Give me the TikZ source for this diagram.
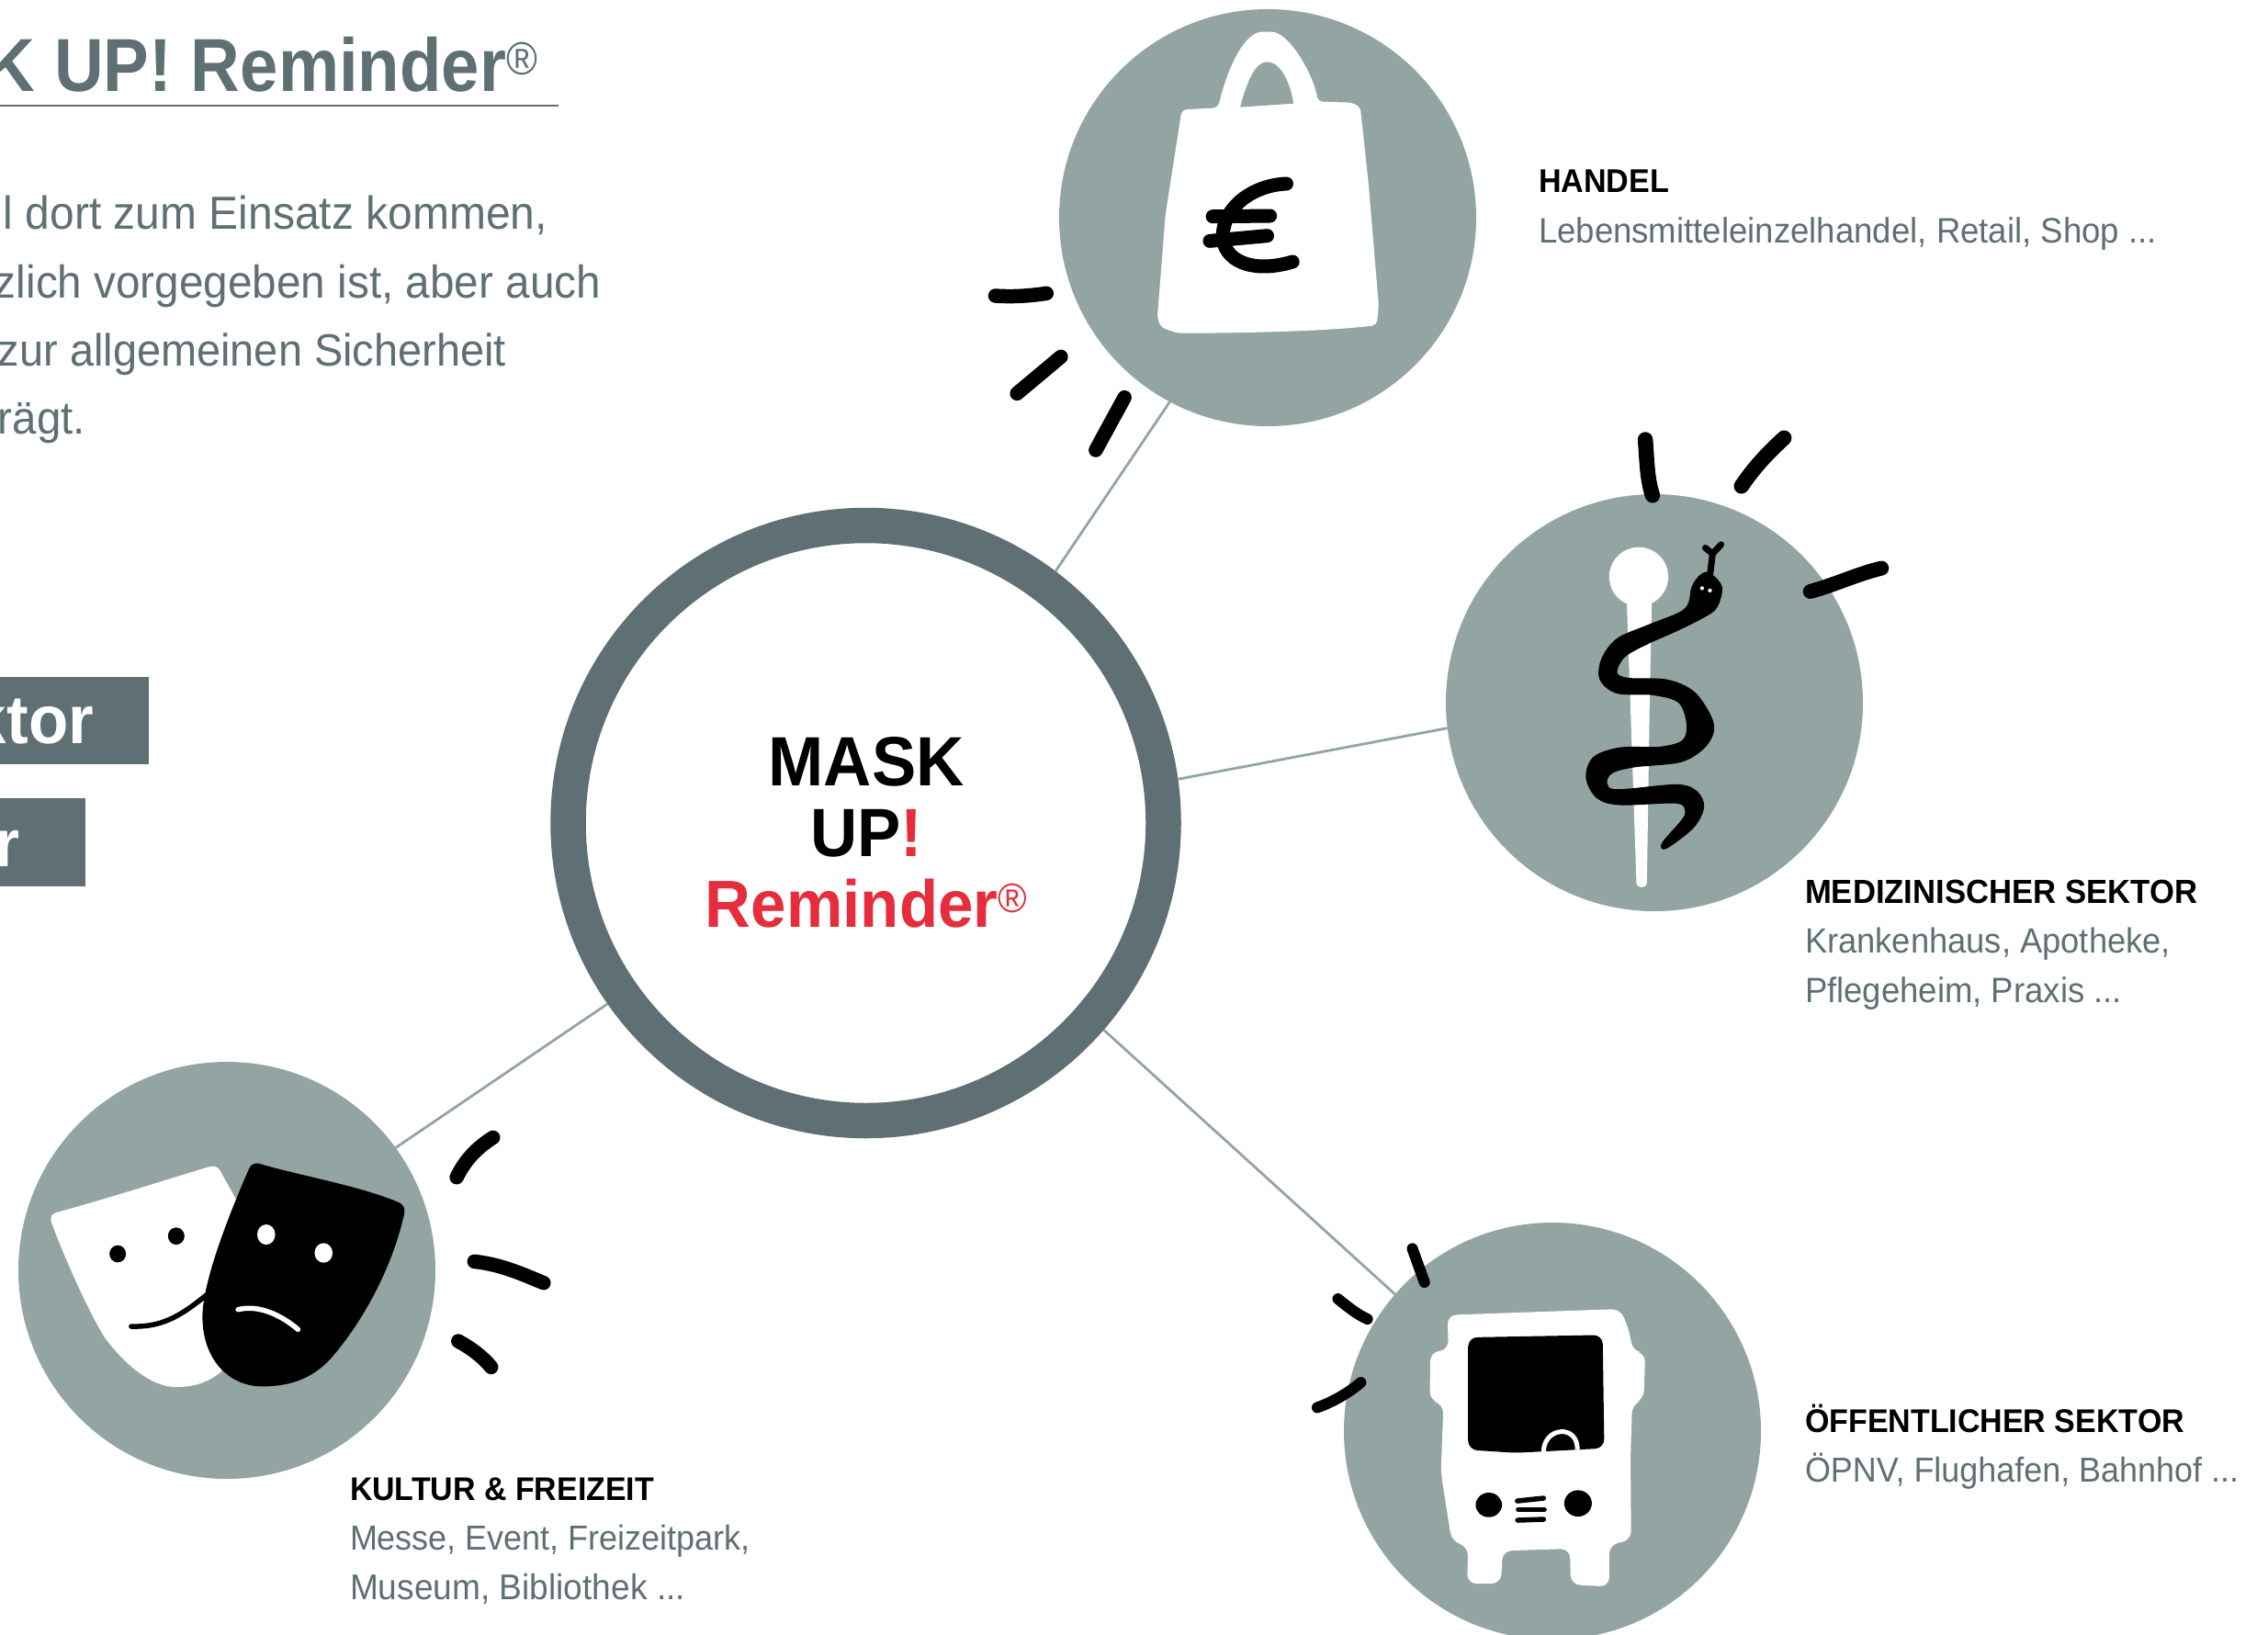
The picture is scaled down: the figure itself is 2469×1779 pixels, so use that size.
\documentclass[tikz,border=0pt]{standalone}
\usepackage{graphicx}
\usepackage{fontspec}
\setmainfont{Liberation Sans}
\definecolor{slate}{HTML}{5E7073}
\definecolor{sage}{HTML}{92A5A2}
\definecolor{signal}{HTML}{E52D3C}
\newdimen\fitdim
\newcommand{\fitw}[2]{\fitdim=.1mm \fitdim=#1\fitdim \scalebox{1}[1.05]{\resizebox{\fitdim}{!}{#2}}}
\newcommand{\fitt}[2]{\fitdim=.1mm \fitdim=#1\fitdim \scalebox{1}[1.1]{\resizebox{\fitdim}{!}{#2}}}
\newcommand{\regmark}{\raisebox{.22em}{\scalebox{.62}{\mdseries ®}}}
\tikzset{
  txt/.style={inner sep=0,outer sep=0,anchor=base west,font=\fontsize{11pt}{13pt}\selectfont},
  txtr/.style={txt,anchor=base east},
  head/.style={txt,font=\fontsize{11pt}{13pt}\selectfont\bfseries,text=black},
  sub/.style={txt,text=slate},
  body/.style={txtr,text=slate,font=\fontsize{15pt}{18pt}\selectfont},
  hub/.style={circle,draw=slate,fill=white,line width=3.85mm,minimum size=64.8mm,inner sep=0},
  sector/.style={circle,fill=sage,minimum size=45.4mm,inner sep=0,outer sep=0},
  link/.style={draw=sage,line width=.28mm},
  ray/.style={black,line width=1.55mm,line cap=round,line join=round},
  thin stroke/.style={line width=.55mm,line cap=round,line join=round},
  zA/.style={shift={(1050,0)},x=.044643mm,y=-.033333mm},
  zB/.style={shift={(1550,450)},x=.035714mm,y=-.035714mm},
  zC/.style={shift={(0,1140)},x=.040816mm,y=-.033333mm},
  zD/.style={shift={(1400,1320)},x=.035714mm,y=-.033333mm},
}
\begin{document}
\begin{tikzpicture}[x=.1mm,y=-.1mm]
\useasboundingbox (0,0) rectangle (2469,1779);
\clip (0,0) rectangle (2469,1779);
\fill[white] (0,0) rectangle (2469,1779);

% left column
\node[txtr,text=slate,font=\bfseries] (title) at (585,99) {\fitt{600}{K UP! Reminder\regmark}};
\coordinate (ulA) at (0,115);
\coordinate (ulB) at (608,115);
\draw[slate,line width=.25mm] (ulA) -- (ulB);
\node[body] (b1) at (596,249) {\fitw{592}{l dort zum Einsatz kommen,}};
\node[body] (b2) at (654,324) {\fitw{660}{zlich vorgegeben ist, aber auch}};
\node[body] (b3) at (551,398) {\fitw{553}{zur allgemeinen Sicherheit}};
\node[body] (b4) at (93,472) {\fitw{95}{rägt.}};
\fill[slate] (0,737) rectangle (162,832);
\fill[slate] (0,869) rectangle (93,965);
\node[txtr,text=white,font=\bfseries] (tag1) at (102,809) {\fitw{134}{ktor}};
\node[txtr,text=white,font=\bfseries] (tag2) at (21,943) {\fitw{27}{r}};

% hub and sector circles
\node[hub] (main) at (942.5,896) {};
\node[sector] (handel) at (1380,237) {};
\node[sector] (med) at (1801,765) {};
\node[sector] (kultur) at (247,1383) {};
\node[sector] (oeff) at (1690,1558) {};

\draw[link] (main.53.2) -- (handel.242.1);
\draw[link] (main.8.2) -- (med.187.6);
\draw[link] (main.-41.7) -- (oeff.139.3);
\draw[link] (main.215.7) -- (kultur.36.1);

% hub text
\node[txt,anchor=base,font=\bfseries] (t1) at (943,855) {\fitw{213}{MASK}};
\node[txt,anchor=base,font=\bfseries] (t2) at (943,932) {\fitw{122}{UP\textcolor{signal}{!}}};
\node[txt,anchor=base,font=\bfseries,text=signal] (t3) at (943,1009) {\fitw{350}{Reminder\regmark}};

% labels
\node[head] (l1) at (1675,209) {\fitw{142}{HANDEL}};
\node[sub] (l1a) at (1675,264) {\fitw{673}{Lebensmitteleinzelhandel, Retail, Shop ...}};
\node[head] (l2) at (1965,983) {\fitw{427}{MEDIZINISCHER SEKTOR}};
\node[sub] (l2a) at (1965,1037) {\fitw{398}{Krankenhaus, Apotheke,}};
\node[sub] (l2b) at (1965,1091) {\fitw{345}{Pflegeheim, Praxis ...}};
\node[head] (l3) at (1965,1559) {\fitw{413}{ÖFFENTLICHER SEKTOR}};
\node[sub] (l3a) at (1965,1613) {\fitw{472}{ÖPNV, Flughafen, Bahnhof ...}};
\node[head] (l4) at (381,1633) {\fitw{331}{KULTUR \& FREIZEIT}};
\node[sub] (l4a) at (381,1687) {\fitw{436}{Messe, Event, Freizeitpark,}};
\node[sub] (l4b) at (381,1741) {\fitw{365}{Museum, Bibliothek ...}};

% bag icon
\begin{scope}[zA]
\fill[white,rounded corners=.5mm] (530,358) -- (618,352) .. controls (640,230) and (680,104) .. (738,104) .. controls (790,104) and (850,240) .. (862,332) -- (945,335) -- (965,350) -- (985,600) -- (1010,1000) -- (1005,1062) .. controls (900,1080) and (700,1088) .. (520,1088) -- (480,1070) -- (470,1040) -- (490,700) -- (525,400) -- cycle;
\fill[sage] (672,350) .. controls (690,260) and (710,202) .. (738,202) .. controls (770,202) and (795,270) .. (802,338) -- cycle;
\draw[ray,line width=1.5mm] (785,600) .. controls (700,605) and (630,680) .. (630,770) .. controls (630,850) and (700,895) .. (800,855);
\draw[ray,line width=1.5mm] (605,707) -- (745,705);
\draw[ray,line width=1.5mm] (598,787) -- (738,770);
\draw[ray] (75,966) .. controls (120,970) and (160,966) .. (200,958);
\draw[ray] (128,1285) -- (235,1165);
\draw[ray] (320,1470) -- (390,1298);
\end{scope}

% staff icon
\begin{scope}[zB]
\fill[white] (655,498) circle [radius=90];
\fill[white] (618,560) -- (695,560) -- (688,900) -- (680,1430) .. controls (678,1450) and (650,1450) .. (648,1430) -- (630,900) -- cycle;
\filldraw[black,line width=.3mm,line join=round] plot[smooth cycle,tension=.55] coordinates {(870,490) (905,530) (890,590) (850,620) (770,660) (680,700) (610,740) (585,790) (620,810) (740,815) (820,850) (870,920) (880,970) (850,1020) (780,1060) (640,1075) (570,1095) (555,1130) (590,1150) (770,1135) (830,1155) (850,1200) (820,1260) (740,1322) (730,1310) (790,1240) (800,1210) (770,1185) (600,1190) (530,1170) (498,1110) (520,1050) (600,1022) (720,1020) (790,1000) (805,950) (780,880) (700,855) (590,850) (540,810) (545,750) (590,690) (680,650) (780,610) (810,580) (820,530) (845,495)};
\draw[black,line width=.7mm,line cap=round,line join=round] (872,495) -- (880,428) -- (858,410) (880,428) -- (906,400);
\fill[white] (848,533) circle [radius=6];
\fill[white] (872,540) circle [radius=6];
\draw[ray,line width=1.65mm] (675,80) .. controls (680,140) and (680,200) .. (697,250);
\draw[ray,line width=1.65mm] (968,222) .. controls (1010,160) and (1050,120) .. (1098,75);
\draw[ray,line width=1.6mm] (1178,543) .. controls (1260,520) and (1320,490) .. (1395,472);
\end{scope}

% masks icon
\begin{scope}[zC]
\fill[white] (150,540) .. controls (300,490) and (450,430) .. (560,390) .. controls (575,385) and (585,395) .. (590,410) -- (640,520) -- (640,900) -- (590,1060) .. controls (550,1100) and (510,1110) .. (470,1110) .. controls (400,1110) and (330,1030) .. (280,950) .. controls (230,850) and (170,680) .. (138,575) .. controls (132,555) and (138,545) .. (150,540) -- cycle;
\fill[black] (314,675) circle [x radius=22,y radius=28];
\fill[black] (470,617) circle [x radius=22,y radius=28];
\draw[black,thin stroke] (350,912) .. controls (430,915) and (480,880) .. (550,810);
\fill[black] (690,380) .. controls (800,420) and (950,450) .. (1060,505) .. controls (1075,512) and (1082,525) .. (1078,545) .. controls (1050,700) and (980,880) .. (880,1020) .. controls (830,1085) and (770,1108) .. (700,1108) .. controls (610,1108) and (540,1020) .. (540,880) .. controls (540,760) and (620,520) .. (665,395) .. controls (670,382) and (680,378) .. (690,380) -- cycle;
\fill[white] (710,612) circle [x radius=24,y radius=33];
\fill[white] (863,672) circle [x radius=24,y radius=32];
\draw[white,thin stroke] (635,857) .. controls (690,840) and (750,875) .. (795,922);
\draw[ray] (1218,425) .. controls (1240,370) and (1270,330) .. (1315,295);
\draw[ray] (1265,700) .. controls (1340,710) and (1400,745) .. (1450,770);
\draw[ray] (1222,960) .. controls (1260,985) and (1290,1015) .. (1310,1045);
\end{scope}

% bus icon
\begin{scope}[zD]
\fill[white,rounded corners=1mm] (492,335) -- (1020,315) -- (1050,400) -- (1055,453) -- (1095,458) -- (1090,612) -- (1055,625) -- (1050,800) -- (1052,1070) -- (985,1085) -- (985,1222) -- (868,1215) -- (865,1098) -- (660,1105) -- (655,1212) -- (552,1212) -- (555,1090) -- (505,1075) -- (472,850) -- (480,625) -- (438,615) -- (440,455) -- (495,450) -- cycle;
\fill[black,rounded corners=1mm] (555,408) -- (965,400) -- (970,770) -- (700,785) -- (555,775) -- cycle;
\draw[white,line width=.5mm] (785,782) .. controls (785,700) and (890,690) .. (888,775);
\fill[black] (618,955) circle [x radius=40,y radius=40];
\fill[black] (890,950) circle [x radius=42,y radius=43];
\draw[black,thin stroke] (705,942) -- (785,933);
\draw[black,thin stroke] (708,970) -- (787,970);
\draw[black,thin stroke] (706,1005) -- (785,1002);
\draw[ray,line width=1.2mm] (385,118) -- (422,228);
\draw[ray,line width=1.2mm] (158,282) .. controls (190,310) and (220,335) .. (248,348);
\draw[ray,line width=1.2mm] (95,637) .. controls (140,620) and (190,590) .. (228,555);
\end{scope}
\end{tikzpicture}
\end{document}
